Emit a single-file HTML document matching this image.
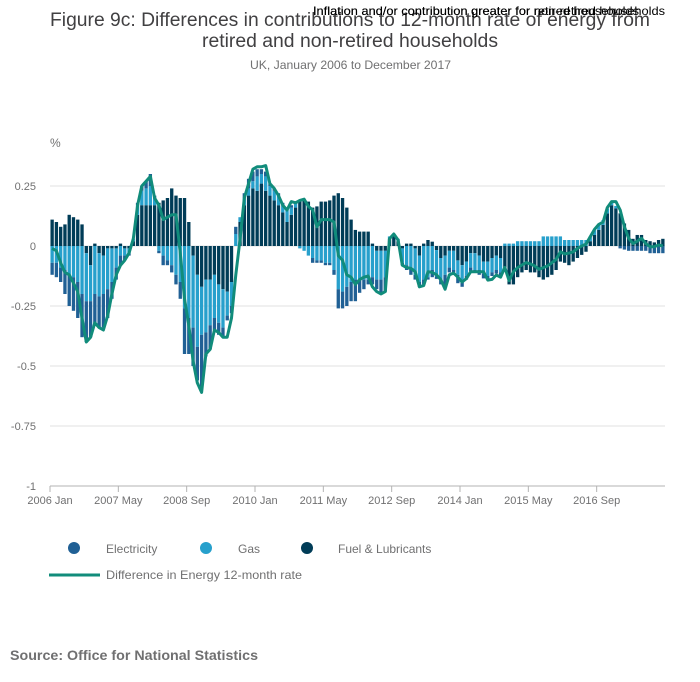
<!DOCTYPE html>
<html><head><meta charset="utf-8"><style>
body{margin:0;background:#fff;font-family:"Liberation Sans",sans-serif;}
#wrap{position:relative;width:700px;height:682px;overflow:hidden;}
</style></head><body>
<div id="wrap">
<svg id="chart" width="700" height="682">
<text x="50" y="26" font-size="19" fill="#414042" textLength="600" lengthAdjust="spacingAndGlyphs">Figure 9c: Differences in contributions to 12-month rate of energy from</text>
<text x="202" y="47" font-size="19" fill="#414042" textLength="296" lengthAdjust="spacingAndGlyphs">retired and non-retired households</text>
<text x="313" y="15" font-size="12" fill="#000" textLength="352" lengthAdjust="spacingAndGlyphs">Inflation and/or contribution greater for non-retired households</text>
<text x="313" y="15" font-size="12" fill="#000" textLength="326" lengthAdjust="spacingAndGlyphs">Inflation and/or contribution greater for retired households</text>
<text x="250" y="69" font-size="12" fill="#707071" textLength="201" lengthAdjust="spacingAndGlyphs">UK, January 2006 to December 2017</text>
<text x="50" y="147" font-size="12" fill="#707071">%</text>
<g id="grid"></g><g id="bars"></g><g id="lineg"></g><g id="xaxis"></g>
<g>
<circle cx="74" cy="548" r="6" fill="#206095"/>
<text x="106" y="553" font-size="12" fill="#707071">Electricity</text>
<circle cx="206" cy="548" r="6" fill="#27a0cc"/>
<text x="238" y="553" font-size="12" fill="#707071">Gas</text>
<circle cx="307" cy="548" r="6" fill="#003c57"/>
<text x="338" y="553" font-size="12" fill="#707071">Fuel &amp; Lubricants</text>
<line x1="49" y1="575" x2="100" y2="575" stroke="#118c7b" stroke-width="3"/>
<text x="106" y="579" font-size="12" fill="#707071" textLength="196" lengthAdjust="spacingAndGlyphs">Difference in Energy 12-month rate</text>
</g>
<text x="10" y="660" font-size="14" font-weight="bold" fill="#707071" textLength="248" lengthAdjust="spacingAndGlyphs">Source: Office for National Statistics</text>
</svg></div>
<script>
const yTicks=[0.25,0,-0.25,-0.5,-0.75,-1];
const yTickLabels=["0.25","0","-0.25","-0.5","-0.75","-1"];
const xTickIdx=[0,16,32,48,64,80,96,112,128];
const xTickLabels=["2006 Jan","2007 May","2008 Sep","2010 Jan","2011 May","2012 Sep","2014 Jan","2015 May","2016 Sep"];
const fuel=[.11,.10,.08,.09,.13,.12,.11,.09,-.03,-.08,.01,-.03,
-.04,-.01,-.01,-.01,.01,-.01,-.01,.02,.13,.17,.17,.17,
.17,.18,.19,.20,.24,.21,.20,.20,.10,-.04,-.12,-.17,
-.14,-.14,-.12,-.16,-.18,-.19,-.15,0,.10,.17,.21,.24,
.23,.26,.23,.21,.19,.17,.14,.10,.13,.16,.19,.19,
.185,.16,.165,.185,.185,.19,.21,.22,.20,.16,.11,.067,
.06,.06,.06,.01,-.02,-.02,-.02,.03,.04,.02,-.01,.01,
.01,-.01,-.04,.01,.025,.018,-.017,-.05,-.04,-.02,-.02,-.06,
-.08,-.065,-.03,-.03,-.04,-.065,-.065,-.05,-.04,-.05,-.09,-.16,
-.16,-.13,-.11,-.10,-.11,-.11,-.13,-.14,-.13,-.12,-.10,-.065,
-.07,-.08,-.065,-.05,-.037,-.024,.02,.046,.067,.088,.136,.17,
.157,.136,.094,.067,.03,.046,.046,.025,.02,.015,.025,.03];
const gas=[-.07,-.07,-.09,-.10,-.12,-.13,-.15,-.20,-.20,-.15,-.20,-.18,
-.16,-.17,-.14,-.08,-.04,-.03,-.02,.01,.04,.06,.07,.08,
.03,-.02,-.04,-.06,-.08,-.12,-.15,-.26,-.30,-.30,-.30,-.20,
-.22,-.19,-.18,-.16,-.16,-.10,-.10,.05,.02,.03,.03,.03,
.06,.04,.06,.04,.04,.04,.03,.05,.03,.02,-.01,-.02,
-.04,-.05,-.06,-.06,-.07,-.07,-.10,-.18,-.19,-.17,-.15,-.14,
-.14,-.14,-.14,-.13,-.12,-.12,-.11,.01,.01,.01,-.06,-.08,
-.09,-.11,-.11,-.14,-.13,-.10,-.11,-.09,-.08,-.07,-.08,-.06,
-.07,-.06,-.06,-.07,-.06,-.05,-.06,-.06,-.06,-.06,.01,.01,
.01,.02,.02,.02,.02,.02,.02,.04,.04,.04,.04,.04,
.025,.025,.025,.025,.025,.025,.02,.02,.02,.02,.02,.015,
.01,0,0,0,0,0,0,0,0,0,0,0];
const elec=[-.05,-.06,-.06,-.10,-.13,-.14,-.15,-.18,-.17,-.15,-.13,-.13,
-.14,-.12,-.07,-.05,-.04,-.02,-.01,0,.01,.02,.03,.05,
.01,-.01,-.04,-.02,-.03,-.04,-.07,-.19,-.15,-.16,-.14,-.22,
-.10,-.10,-.05,-.05,-.035,-.02,-.03,.03,0,.02,.04,.04,
.03,.02,.02,.01,.01,.01,.01,0,.01,0,0,0,
0,-.02,-.01,-.01,-.01,-.01,-.02,-.08,-.07,-.08,-.08,-.09,
-.055,-.04,-.02,-.03,-.04,-.06,-.06,0,0,0,-.01,-.02,
-.03,-.02,-.02,-.02,-.01,-.03,-.01,-.02,-.05,-.02,-.01,-.035,
-.02,-.015,-.015,-.01,-.02,-.02,-.015,-.015,-.015,-.02,0,0,
0,0,0,0,0,0,0,0,0,0,0,0,
0,0,0,0,0,0,0,0,0,0,0,0,
0,-.01,-.015,-.02,-.02,-.02,-.02,-.02,-.03,-.03,-.03,-.03];
const energyDiff=[-.01,-.02,-.07,-.11,-.12,-.155,-.19,-.30,-.40,-.38,-.32,-.34,
-.35,-.29,-.20,-.12,-.08,-.06,-.03,.03,.17,.25,.27,.29,
.20,.17,.11,.12,.13,.13,-.03,-.22,-.33,-.48,-.57,-.61,
-.45,-.43,-.35,-.36,-.38,-.38,-.30,-.12,.03,.20,.26,.32,
.33,.33,.335,.26,.24,.21,.17,.15,.185,.18,.19,.195,
.165,.15,.08,.11,.11,.11,.10,-.04,-.06,-.12,-.13,-.16,
-.14,-.13,-.125,-.17,-.19,-.20,-.19,.03,.05,.025,-.08,-.09,
-.093,-.107,-.17,-.165,-.107,-.11,-.12,-.14,-.18,-.12,-.113,-.13,
-.15,-.136,-.107,-.107,-.107,-.107,-.142,-.139,-.121,-.13,-.089,-.144,
-.107,-.09,-.079,-.069,-.075,-.083,-.097,-.09,-.083,-.07,-.056,-.024,
-.033,-.03,-.024,-.01,0,.008,.039,.069,.09,.10,.16,.185,
.185,.15,.08,.032,.01,.02,.032,.01,-.003,-.003,.004,0];

const NS="http://www.w3.org/2000/svg";
const X0=50,X1=665,N=144,band=(X1-X0)/N;
function xs(i){return X0+(i+0.5)*band;}
function ys(v){return 246-v*240;}
function mk(tag,attrs,parent){const e=document.createElementNS(NS,tag);for(const k in attrs)e.setAttribute(k,attrs[k]);parent.appendChild(e);return e;}
const grid=document.getElementById('grid');
yTicks.forEach((v,i)=>{
  const l=mk('line',{x1:X0,x2:X1,y1:ys(v),y2:ys(v),stroke:'#e0e0e0','stroke-width':1},grid);
  
  
  const t=mk('text',{x:36,y:ys(v)+4,'text-anchor':'end','font-size':11,fill:'#707071'},grid);
  t.textContent=yTickLabels[i];
  
  
});
const xa=document.getElementById('xaxis');
const ax=mk('line',{x1:X0,x2:X1,y1:ys(-1),y2:ys(-1),stroke:'#b3b3b3','stroke-width':1},xa);


xTickIdx.forEach((m,i)=>{
  const x=X0+m*band;
  const tk=mk('line',{x1:x,x2:x,y1:ys(-1),y2:ys(-1)+6,stroke:'#b3b3b3'},xa);
  
  
  const t=mk('text',{x:x,y:504,'text-anchor':'middle','font-size':11,fill:'#707071'},xa);
  t.textContent=xTickLabels[i];
  
  
});
const bars=document.getElementById('bars');
const series=[[fuel,'#003c57','fuel'],[gas,'#27a0cc','gas'],[elec,'#206095','electricity']];
for(let i=0;i<N;i++){
  let pos=0,neg=0;
  series.forEach(([arr,col,nm])=>{
    const v=arr[i];if(!v)return;
    let a,b;
    if(v>0){a=pos;b=pos+v;pos=b;}else{a=neg;b=neg+v;neg=b;}
    const y1=ys(Math.max(a,b)),y2=ys(Math.min(a,b));
    const r=mk('rect',{x:xs(i)-band*0.39,width:band*0.78,y:y1,height:Math.max(y2-y1,0.5),fill:col},bars);
    
    
  });
}
const lg=document.getElementById('lineg');
const p=mk('path',{d:energyDiff.map((v,i)=>(i?'L':'M')+xs(i).toFixed(1)+','+ys(v).toFixed(1)).join(''),fill:'none',stroke:'#118c7b','stroke-width':3,'stroke-linejoin':'round'},lg);


</script>
</body></html>
